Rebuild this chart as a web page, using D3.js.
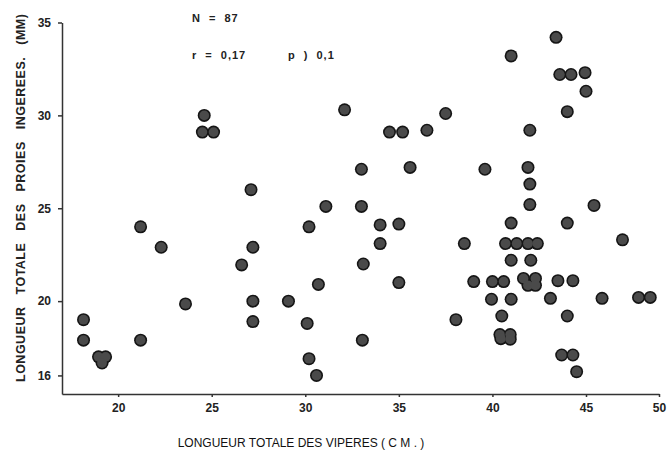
<!DOCTYPE html>
<html lang="fr">
<head>
<meta charset="UTF-8">
<title>Longueur des proies / longueur des vipères</title>
<script src="https://d3js.org/d3.v7.min.js"></script>
<style>
    body { margin: 0; background: #fff; overflow: hidden; }
    svg { display: block; background: #fff; }
    .tick text { font-family: 'Liberation Sans', Arial, sans-serif; font-weight: bold; font-size: 12px; fill: #222; }
    .tick line, .domain { stroke: #333; stroke-width: 1.5px; }
    .note { font-family: 'Liberation Sans', Arial, sans-serif; font-weight: bold; font-size: 11px; fill: #222;
            letter-spacing: 1px; word-spacing: 4px; white-space: pre; }
    .bord { fill: #151515; }
    .coeur { fill: #4a4a4a; }
</style>
</head>
<body>
<svg id="chart" width="669" height="454"></svg>
<script>
// longueur totale des vipères (cm) et longueur totale des proies ingérées
const vipereLongueur = [
    24.6, 24.5, 25.1, 27.1, 32.1, 43.4, 41.0, 43.6, 44.2, 44.95,
    45.0, 44.0, 34.5, 35.2, 36.5, 37.5, 42.0, 33.0, 35.6, 39.6,
    41.9, 42.0, 31.1, 21.2, 22.3, 27.2, 26.6, 30.2, 30.7, 23.6,
    27.2, 29.1, 18.15, 18.15, 21.2, 18.95, 19.33, 19.14, 27.2, 30.1,
    30.2, 30.6, 33.0, 42.0, 45.55, 34.0, 35.0, 41.0, 44.0, 34.0,
    38.5, 40.7, 41.3, 41.9, 42.4, 47.5, 33.1, 41.0, 42.05, 35.0,
    39.0, 40.0, 40.6, 41.66, 42.3, 41.9, 42.3, 43.5, 44.3, 39.95,
    41.0, 43.1, 46.1, 48.6, 49.4, 38.05, 40.5, 44.0, 33.05, 40.4,
    40.95, 40.45, 40.95, 43.7, 44.3, 44.5
];
const proieLongueur = [
    30.0, 29.1, 29.1, 26.0, 30.3, 34.2, 33.2, 32.2, 32.2, 32.3,
    31.3, 30.2, 29.1, 29.1, 29.2, 30.1, 29.2, 27.1, 27.2, 27.1,
    27.2, 26.3, 25.1, 24.0, 22.9, 22.9, 21.95, 24.0, 20.9, 19.85,
    20.0, 20.0, 19.0, 17.9, 17.9, 17.0, 17.0, 16.67, 18.9, 18.8,
    16.9, 16.0, 25.1, 25.2, 25.15, 24.1, 24.15, 24.2, 24.2, 23.1,
    23.1, 23.1, 23.1, 23.1, 23.1, 23.3, 22.0, 22.2, 22.2, 21.0,
    21.05, 21.05, 21.05, 21.22, 21.22, 20.85, 20.85, 21.1, 21.1, 20.1,
    20.1, 20.15, 20.15, 20.2, 20.2, 19.0, 19.2, 19.2, 17.9, 18.2,
    18.2, 17.98, 17.95, 17.1, 17.1, 16.2
];
const xTicks = [20, 25, 30, 35, 40, 45, 50];
const yTicks = [16, 20, 25, 30, 35];
const notes = [
    { text: "N = 87", x: 192, y: 22 },
    { text: "r = 0,17", x: 192, y: 59 },
    { text: "p ) 0,1", x: 288, y: 59 }
];

const svg = d3.select("#chart");

// l'axe du scan est un peu comprimé entre 45 et 50
const x = d3.scaleLinear().domain([17, 45, 50]).range([62, 586, 659]);
const y = d3.scaleLinear().domain([15, 35]).range([394, 22.5]);

svg.append("g")
    .attr("transform", `translate(0,${y(15)})`)
    .call(d3.axisBottom(x).tickValues(xTicks).tickSize(3).tickPadding(6).tickSizeOuter(0));

svg.append("g")
    .attr("transform", `translate(${x(17)},0)`)
    .call(d3.axisLeft(y).tickValues(yTicks).tickSize(4).tickPadding(7).tickSizeOuter(0));

// points : bord noir dessous, coeur gris dessus -> les amas se fondent comme sur le scan
const points = vipereLongueur.map((v, i) => [v, proieLongueur[i]]);

svg.append("g")
    .selectAll("circle")
    .data(points)
    .enter().append("circle")
    .attr("class", "bord")
    .attr("cx", d => x(d[0]))
    .attr("cy", d => y(d[1]))
    .attr("r", 6.5);

svg.append("g")
    .selectAll("circle")
    .data(points)
    .enter().append("circle")
    .attr("class", "coeur")
    .attr("cx", d => x(d[0]))
    .attr("cy", d => y(d[1]))
    .attr("r", 4.9);

// textes
svg.selectAll(".note")
    .data(notes)
    .enter().append("text")
    .attr("class", "note")
    .attr("x", d => d.x)
    .attr("y", d => d.y)
    .text(d => d.text);

svg.append("text")
    .attr("x", 301)
    .attr("y", 447)
    .attr("text-anchor", "middle")
    .style("font-family", "'Liberation Sans', Arial, sans-serif")
    .style("font-size", "12px")
    .style("fill", "#111")
    .text("LONGUEUR TOTALE DES VIPERES ( C M . )");

svg.append("text")
    .attr("transform", "translate(25,382) rotate(-90)")
    .style("font-family", "'Liberation Sans', Arial, sans-serif")
    .style("font-weight", "bold")
    .style("font-size", "12.5px")
    .style("letter-spacing", "0.5px")
    .style("word-spacing", "8px")
    .style("fill", "#222")
    .text("LONGUEUR TOTALE DES PROIES INGEREES. (MM)");
</script>
</body>
</html>
